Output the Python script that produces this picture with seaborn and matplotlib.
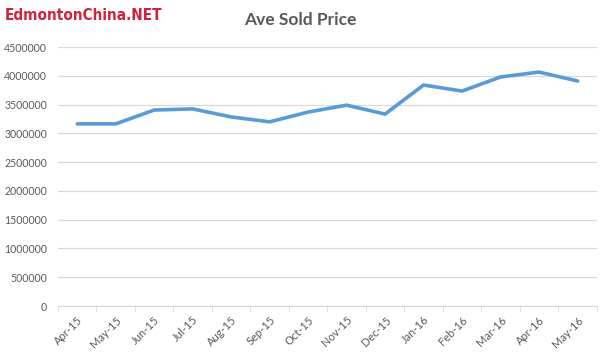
import matplotlib
matplotlib.use("Agg")
import matplotlib.pyplot as plt
import seaborn as sns
from matplotlib.ticker import MultipleLocator

# data
months = ["Apr-15", "May-15", "Jun-15", "Jul-15", "Aug-15", "Sep-15", "Oct-15",
          "Nov-15", "Dec-15", "Jan-16", "Feb-16", "Mar-16", "Apr-16", "May-16"]
prices = [3165000, 3165000, 3405000, 3425000, 3285000, 3200000, 3370000,
          3490000, 3335000, 3840000, 3735000, 3980000, 4065000, 3910000]
y_ticks = list(range(0, 4500001, 500000))

sns.set_style("white")
plt.rcParams["font.family"] = ["Lato", "DejaVu Sans"]

fig = plt.figure(figsize=(6.01, 3.59), dpi=100)
ax = fig.add_axes([0.0965, 0.1476, 0.8965, 0.7214])

sns.lineplot(x=months, y=prices, sort=False, color="#5b9bd5", linewidth=2.6, ax=ax)

ax.set_xlim(-0.5, len(months) - 0.5)
ax.set_ylim(0, 4500000)
ax.set_yticks(y_ticks)
ax.set_yticklabels([str(v) for v in y_ticks])
ax.yaxis.grid(True, color="#d9d9d9", linewidth=0.9)
ax.set_axisbelow(True)

ax.set_xticks(range(len(months)))
ax.set_xticklabels(months, rotation=45, ha="right", rotation_mode="anchor")
ax.xaxis.set_minor_locator(MultipleLocator(1, offset=0.5))
ax.tick_params(axis="x", which="major", length=0, pad=6, labelsize=8, labelcolor="#595959")
ax.tick_params(axis="x", which="minor", length=4, color="#d9d9d9", direction="out", bottom=True)
ax.tick_params(axis="y", length=0, pad=8, labelsize=7.6, labelcolor="#595959")

for s in ["left", "right", "top"]:
    ax.spines[s].set_visible(False)
ax.spines["bottom"].set_color("#d9d9d9")

ax.set_xlabel("")
ax.set_ylabel("")

fig.text(0.5, 0.945, "Ave Sold Price", ha="center", va="center",
         fontsize=12.5, fontweight="bold", color="#595959")
fig.text(0.008, 0.958, "EdmontonChina.NET", ha="left", va="center",
         fontsize=11, fontweight="bold", fontstretch="condensed", color="#d3203b",
         family="DejaVu Sans")

fig.savefig("out.png", dpi=100)
